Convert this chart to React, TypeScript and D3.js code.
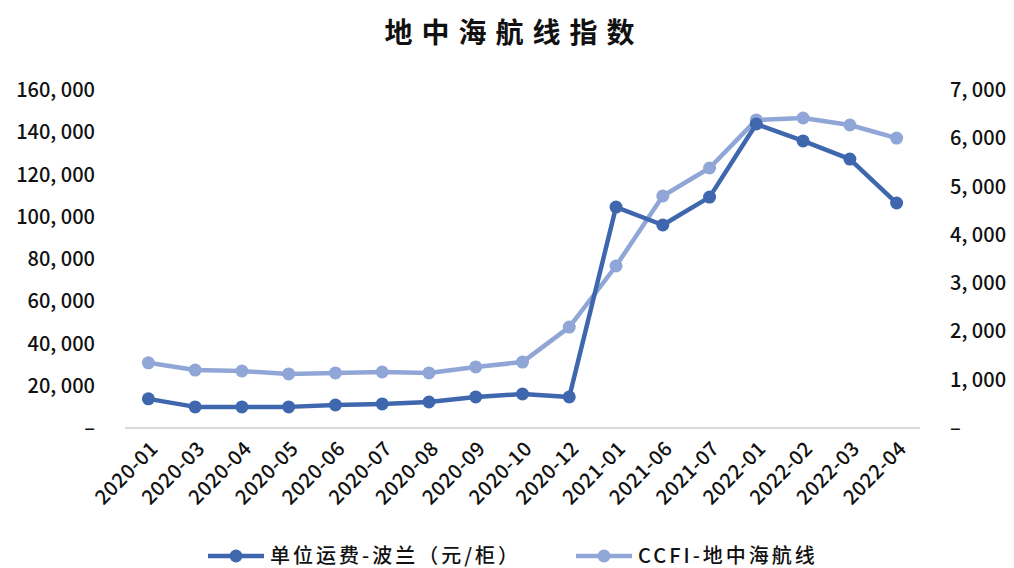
import * as d3 from "d3";

const categories = [
  "2020-01", "2020-03", "2020-04", "2020-05", "2020-06", "2020-07", "2020-08", "2020-09",
  "2020-10", "2020-12", "2021-01", "2021-06", "2021-07", "2022-01", "2022-02", "2022-03", "2022-04",
];
// 单位运费-波兰（元/柜），左轴
const polandFreight = [
  13800, 10000, 10000, 10000, 10900, 11400, 12300, 14700,
  16100, 14700, 104600, 96100, 109300, 143900, 135900, 127300, 106500,
];
// CCFI-地中海航线，右轴
const ccfiMed = [
  1350, 1200, 1180, 1120, 1140, 1160, 1140, 1265,
  1365, 2090, 3355, 4805, 5385, 6380, 6420, 6275, 6005,
];
const leftTicks = [0, 20000, 40000, 60000, 80000, 100000, 120000, 140000, 160000];
const rightTicks = [0, 1000, 2000, 3000, 4000, 5000, 6000, 7000];

const W = 1014;
const H = 568;
const FONT = "'Noto Sans CJK SC', 'DejaVu Sans', sans-serif";
const DARK = "#3f67ae";
const LIGHT = "#8fa6d6";

export default function App() {
  const x = d3.scaleBand().domain(categories).range([125, 920]);
  const yL = d3.scaleLinear().domain([0, 160000]).range([428, 90]);
  const yR = d3.scaleLinear().domain([0, 7000]).range([428, 90]);
  const cx = (c: string) => (x(c) ?? 0) + x.bandwidth() / 2;
  const fmt = (v: number) => (v === 0 ? "–" : d3.format(",")(v).replace(",", ", "));

  const lineL = d3.line<number>().x((_, i) => cx(categories[i])).y((d) => yL(d));
  const lineR = d3.line<number>().x((_, i) => cx(categories[i])).y((d) => yR(d));

  return (
    <svg width={W} height={H} style={{ position: "absolute", left: 0, top: 0 }} fontFamily={FONT}>
      <rect width={W} height={H} fill="#fff" />
      <text x={514} y={43} textAnchor="middle" fontSize={28} fontWeight="bold" letterSpacing={9} fill="#111">
        地中海航线指数
      </text>

      {/* 左轴 */}
      {leftTicks.map((t) => (
        <text key={t} x={95} y={yL(t)} dy="0.35em" textAnchor="end" fontSize={20} fontWeight={500} fill="#111">
          {fmt(t)}
        </text>
      ))}
      {/* 右轴 */}
      {rightTicks.map((t) => (
        <text key={t} x={950} y={yR(t)} dy="0.35em" textAnchor="start" fontSize={20} fontWeight={500} fill="#111">
          {fmt(t)}
        </text>
      ))}

      <line x1={125} x2={920} y1={428} y2={428} stroke="#d9d9d9" strokeWidth={2} />

      {categories.map((c) => (
        <text
          key={c}
          transform={`translate(${cx(c) + 6},${445}) rotate(-45)`}
          textAnchor="end"
          dy="0.35em"
          fontSize={20}
          fontWeight={500}
          letterSpacing={0.5}
          fill="#111"
        >
          {c}
        </text>
      ))}

      <path d={lineR(ccfiMed) ?? ""} fill="none" stroke={LIGHT} strokeWidth={4.5} strokeLinejoin="round" />
      {ccfiMed.map((v, i) => (
        <circle key={i} cx={cx(categories[i])} cy={yR(v)} r={6.5} fill={LIGHT} />
      ))}
      <path d={lineL(polandFreight) ?? ""} fill="none" stroke={DARK} strokeWidth={4.5} strokeLinejoin="round" />
      {polandFreight.map((v, i) => (
        <circle key={i} cx={cx(categories[i])} cy={yL(v)} r={6.5} fill={DARK} />
      ))}

      {/* 图例 */}
      <g transform="translate(208,556)">
        <line x1={0} x2={56} stroke={DARK} strokeWidth={4.5} />
        <circle cx={28} r={6.5} fill={DARK} />
        <text x={62} dy="0.35em" fontSize={20} fontWeight={500} letterSpacing={3} fill="#111">单位运费-波兰（元/柜）</text>
      </g>
      <g transform="translate(576,556)">
        <line x1={0} x2={56} stroke={LIGHT} strokeWidth={4.5} />
        <circle cx={28} r={6.5} fill={LIGHT} />
        <text x={62} dy="0.35em" fontSize={20} fontWeight={500} letterSpacing={3} fill="#111">CCFI-地中海航线</text>
      </g>
    </svg>
  );
}
